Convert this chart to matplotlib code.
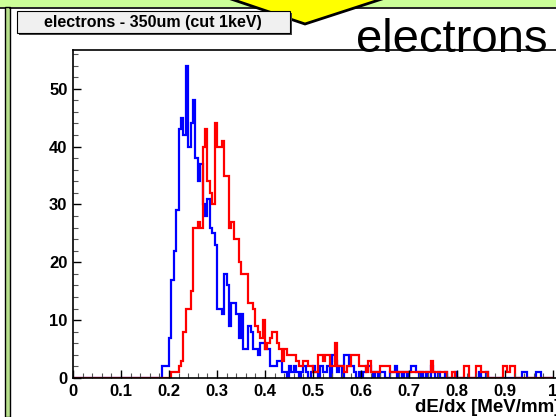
import numpy as np
import matplotlib.pyplot as plt
from matplotlib.patches import Rectangle, Polygon
from matplotlib.ticker import MultipleLocator

# histogram: 200 bins on [0, 1], counts
n_bins = 200
first_bin = 36  # first listed bin starts at dE/dx = 0.18

blue_counts = [0, 2, 2, 2, 7, 17, 22, 29, 43, 45, 42, 54, 40, 44, 48, 38, 34, 37,
               30, 28, 31, 26, 25, 23, 12, 12, 11, 18, 16, 9, 13, 13, 11, 7, 11,
               5, 5, 9, 8, 5, 5, 4, 6, 6, 5, 5, 2, 2, 2, 3, 3, 1, 1,
               0, 2, 1, 2, 1, 0, 1, 2, 1, 0, 1, 2, 1, 0, 2, 1, 1, 2, 0, 4, 3, 1,
               2, 0, 4, 4, 2, 2, 1, 0, 1, 0, 1, 2, 2, 1, 0, 1, 0, 1, 1, 0, 0,
               1, 1, 2, 0, 1, 0, 1, 0, 1, 2, 2, 1, 0, 1, 0, 1, 0, 2, 1, 0, 1,
               0, 0, 1, 0, 0, 0, 1, 0, 0, 0, 0, 0, 0, 0, 0, 0, 1, 0, 0, 1, 0,
               0, 0, 0, 0, 0, 0, 0, 0, 0, 0, 0, 0, 0, 1, 1, 0, 0, 0, 0, 1, 1, 0, 0]

red_counts = [0, 0, 0, 0, 0, 1, 1, 1, 2, 3, 8, 12, 12, 15, 26, 26, 27, 26, 40,
              43, 34, 32, 30, 44, 40, 40, 41, 35, 35, 26, 27, 24, 24, 20, 18,
              18, 18, 13, 13, 12, 9, 8, 7, 10, 5, 6, 7, 8, 8, 6, 5, 3, 5, 4, 4,
              4, 4, 3, 2, 2, 3, 3, 2, 2, 1, 1, 4, 4, 3, 4, 4, 2, 2, 6, 2, 2, 2,
              1, 2, 2, 4, 4, 4, 2, 2, 2, 1, 3, 1, 1, 1, 1, 2, 2, 2, 2, 1, 1, 1,
              1, 1, 1, 1, 1, 1, 1, 1, 1, 1, 1, 1, 1, 1, 3, 1, 1, 1, 1, 1, 1, 0,
              0, 1, 0, 0, 0, 0, 2, 2, 0, 0, 0, 2, 2, 1, 1, 1, 0, 0, 0, 0, 0, 0,
              2, 2, 1, 2, 2, 0, 0, 0, 0, 0, 0, 0, 0, 0, 0, 0, 0, 0, 0, 0, 0]

x_tick_labels = ['0', '0.1', '0.2', '0.3', '0.4', '0.5', '0.6', '0.7', '0.8', '0.9', '1']
y_tick_labels = ['0', '10', '20', '30', '40', '50']

title_text = 'electrons - 350um (cut 1keV)'
big_text = 'electrons'
x_label = 'dE/dx [MeV/mm]'

W, H = 556, 417
plt.rcParams['font.family'] = ['Liberation Sans', 'DejaVu Sans']


def px(x, y):
    # pixel coords (top-left origin) -> figure fraction
    return (x / W, 1 - y / H)


def counts_full(lst):
    c = np.zeros(n_bins)
    c[first_bin:first_bin + len(lst)] = lst[:n_bins - first_bin]
    return c


fig = plt.figure(figsize=(W / 100, H / 100), dpi=100)
fig.patch.set_facecolor('white')

# canvas decorations (green frame, yellow arrow)
fig.patches.append(Rectangle(px(0, 7), 1, 7 / H, transform=fig.transFigure,
                             facecolor='#ccff99', edgecolor='none', zorder=0))
fig.patches.append(Rectangle(px(5, H), 5 / W, (H - 7) / H, transform=fig.transFigure,
                             facecolor='#b8e08c', edgecolor='black', lw=1.0, zorder=0))
fig.lines.append(plt.Line2D([10 / W, 1], [1 - 7.5 / H] * 2, transform=fig.transFigure,
                            color='black', lw=1.2))
fig.lines.append(plt.Line2D([0, 5 / W], [1 - 7.5 / H] * 2, transform=fig.transFigure,
                            color='black', lw=1.2))

ax = fig.add_axes([73 / W, 1 - 378 / H, (W - 73) / W, (378 - 50) / H])
edges = np.linspace(0, 1, n_bins + 1)
ax.stairs(counts_full(blue_counts), edges, color='#0000ff', lw=1.6)
ax.stairs(counts_full(red_counts), edges, color='#ff0000', lw=1.6)

ax.set_xlim(0, (W - 73) / 480)
ax.set_ylim(0, 56.7)
ax.spines['right'].set_visible(False)
for s in ax.spines.values():
    s.set_linewidth(1.2)

ax.set_xticks(np.arange(0, 1.01, 0.1))
ax.set_xticklabels(x_tick_labels)
ax.set_yticks(np.arange(0, 51, 10))
ax.set_yticklabels(y_tick_labels)
ax.xaxis.set_minor_locator(MultipleLocator(0.02))
ax.yaxis.set_minor_locator(MultipleLocator(2))
ax.tick_params(which='both', direction='in', top=False, right=False)
ax.tick_params(which='major', length=6, width=1.0, labelsize=12, pad=4)
ax.tick_params(which='minor', length=3.5, width=0.8, color='#555555')
for lab in ax.get_xticklabels() + ax.get_yticklabels():
    lab.set_fontweight('bold')

fig.text(*px(560, 399), x_label, ha='right', va='top', fontsize=13.5, fontweight='bold')

# title box
fig.patches.append(Rectangle(px(19, 35), 273 / W, 22 / H, transform=fig.transFigure,
                             facecolor='#444444', edgecolor='none', zorder=5))
fig.patches.append(Rectangle(px(17, 33), 273 / W, 22 / H, transform=fig.transFigure,
                             facecolor='#f0f0f0', edgecolor='black', lw=0.8, zorder=6))
fig.text(*px(153, 22), title_text, ha='center', va='center', fontsize=11.5,
         fontweight='bold', zorder=7)

# yellow arrow head
fig.patches.append(Polygon([px(228, -2), px(305, 24), px(385, -2)], closed=True,
                           transform=fig.transFigure, facecolor='#ffff00',
                           edgecolor='black', lw=2.0, zorder=4))

fig.text(*px(548, 52), big_text, ha='right', va='baseline', fontsize=34, zorder=8)

fig.savefig('out.png', dpi=100)
